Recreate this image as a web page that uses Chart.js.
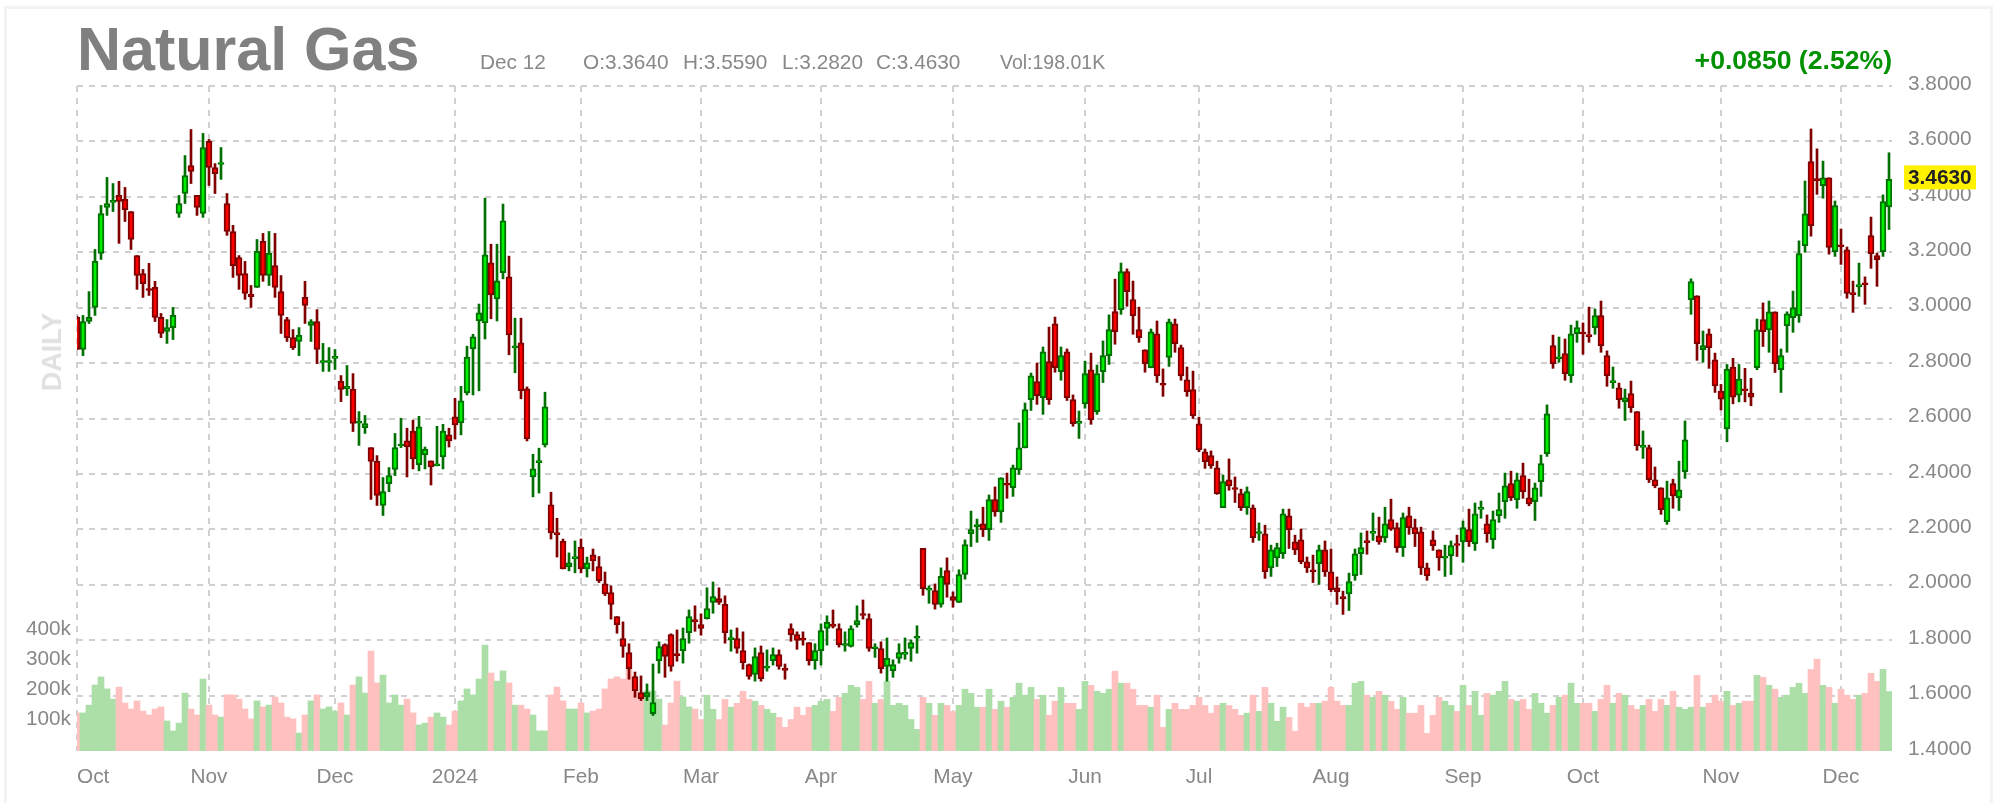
<!DOCTYPE html>
<html>
<head>
<meta charset="utf-8">
<title>Natural Gas</title>
<script src="https://cdn.jsdelivr.net/npm/chart.js@4/dist/chart.umd.min.js"></script>
<style>
    html, body { margin: 0; padding: 0; background: #fff; }
    #wrap { position: relative; width: 2008px; height: 803px; overflow: hidden; font-family: "Liberation Sans", Arial, sans-serif; }
    #frame { position: absolute; left: 4px; top: 6px; width: 1983px; height: 810px; border: 3px solid #f3f3f3; }
    canvas { position: absolute; left: 0; top: 0; }
    .txt { position: absolute; white-space: nowrap; color: #888; font-size: 20.8px; line-height: 24px; top: 50px; }
    #title { left: 77px; top: 14px; font-size: 61px; line-height: 70px; font-weight: bold; color: #808080; }
    #change { right: 116px; top: 43px; font-size: 26.6px; line-height: 34px; font-weight: bold; color: #009000; }
    #daily { left: 52px; top: 352px; font-size: 27px; line-height: 30px; font-weight: bold; color: #e0e0e0; transform: translate(-50%, -50%) rotate(-90deg); }
</style>
</head>
<body>
<div id="wrap">
    <div id="frame"></div>
    <canvas id="gas-chart" width="2008" height="803"></canvas>
    <div class="txt" id="title">Natural Gas</div>
    <div class="txt" style="left:480px">Dec 12</div>
    <div class="txt" style="left:583px">O:3.3640</div>
    <div class="txt" style="left:683px">H:3.5590</div>
    <div class="txt" style="left:782px">L:3.2820</div>
    <div class="txt" style="left:876px">C:3.4630</div>
    <div class="txt" style="left:1000px;font-size:19.5px">Vol:198.01K</div>
    <div class="txt" id="change">+0.0850 (2.52%)</div>
    <div class="txt" id="daily">DAILY</div>
</div>
<script>
// Daily prices, one entry per session slot
const opens = [
    2.965,2.849,2.950,3.001,3.196,3.362,3.380,3.405,3.391,3.347,
    3.188,3.123,3.069,3.073,2.965,2.914,2.928,3.340,3.412,3.513,
    3.405,3.340,3.600,3.506,3.517,3.376,3.275,3.181,3.123,3.048,
    3.073,3.239,3.116,3.152,3.058,2.957,2.892,2.878,3.037,2.936,
    2.950,2.802,2.802,2.817,2.734,2.708,2.705,2.583,2.567,2.495,
    2.445,2.286,2.365,2.416,2.501,2.519,2.555,2.433,2.469,2.447,
    2.429,2.461,2.541,2.606,2.584,2.692,2.851,2.952,2.945,3.162,
    3.032,3.126,3.111,2.855,2.873,2.707,2.389,2.441,2.505,2.288,
    2.188,2.158,2.064,2.094,2.136,2.057,2.108,2.066,2.003,1.972,
    1.885,1.806,1.755,1.669,1.611,1.596,1.535,1.726,1.784,1.820,
    1.752,1.762,1.827,1.874,1.856,1.878,1.936,1.950,1.929,1.802,
    1.806,1.762,1.712,1.676,1.755,1.699,1.726,1.748,1.699,1.842,
    1.820,1.807,1.791,1.726,1.762,1.842,1.858,1.842,1.781,1.777,
    1.856,1.896,1.878,1.769,1.770,1.705,1.690,1.734,1.749,1.770,
    1.807,2.131,1.980,1.979,1.929,2.051,1.957,1.936,2.037,2.184,
    2.209,2.220,2.199,2.307,2.263,2.366,2.350,2.415,2.494,2.668,
    2.733,2.675,2.805,2.942,2.769,2.841,2.668,2.582,2.653,2.776,
    2.625,2.769,2.827,2.986,2.993,3.130,3.029,2.921,2.848,2.783,
    2.906,2.727,2.820,2.942,2.856,2.740,2.704,2.581,2.480,2.466,
    2.422,2.278,2.379,2.351,2.329,2.278,2.278,2.185,2.184,2.061,
    2.097,2.112,2.249,2.155,2.162,2.083,2.054,2.076,2.126,2.047,
    1.989,1.957,1.967,2.033,2.112,2.159,2.185,2.177,2.170,2.235,
    2.206,2.134,2.249,2.206,2.191,2.061,2.162,2.126,2.096,2.105,
    2.149,2.155,2.199,2.148,2.272,2.220,2.163,2.249,2.300,2.365,
    2.307,2.394,2.314,2.300,2.372,2.473,2.863,2.816,2.834,2.755,
    2.906,2.912,2.903,2.928,2.971,2.827,2.729,2.711,2.661,2.690,
    2.625,2.496,2.495,2.379,2.350,2.228,2.365,2.314,2.408,3.029,
    3.043,2.848,2.906,2.812,2.699,2.562,2.786,2.684,2.707,2.692,
    2.783,2.957,2.920,2.985,2.776,2.935,2.964,2.971,3.224,3.527,
    3.466,3.440,3.469,3.202,3.227,3.209,3.054,3.076,3.090,3.260,
    3.188,3.202,3.364
];
const closes = [
    2.849,2.950,2.965,3.167,3.340,3.376,3.387,3.383,3.354,3.246,
    3.116,3.087,3.062,2.965,2.907,2.928,2.972,3.376,3.477,3.492,
    3.362,3.578,3.506,3.484,3.524,3.275,3.152,3.116,3.051,3.040,
    3.203,3.116,3.196,3.073,2.972,2.892,2.856,2.900,3.008,2.950,
    2.849,2.809,2.809,2.824,2.705,2.716,2.582,2.590,2.582,2.445,
    2.322,2.336,2.394,2.495,2.508,2.497,2.454,2.570,2.490,2.425,
    2.436,2.555,2.519,2.577,2.664,2.822,2.895,2.981,3.191,3.046,
    3.097,3.313,2.902,2.862,2.700,2.526,2.418,2.448,2.642,2.187,
    2.181,2.057,2.079,2.102,2.057,2.079,2.086,2.015,1.967,1.929,
    1.856,1.777,1.697,1.618,1.589,1.611,1.575,1.777,1.741,1.705,
    1.744,1.806,1.885,1.867,1.842,1.914,1.957,1.936,1.827,1.809,
    1.770,1.719,1.669,1.741,1.661,1.706,1.748,1.705,1.691,1.820,
    1.799,1.800,1.726,1.762,1.835,1.864,1.850,1.784,1.788,1.842,
    1.871,1.889,1.770,1.776,1.697,1.734,1.712,1.755,1.756,1.791,
    1.814,1.986,1.987,1.929,2.030,2.001,1.943,2.037,2.145,2.199,
    2.217,2.199,2.307,2.263,2.386,2.359,2.422,2.494,2.632,2.754,
    2.682,2.841,2.668,2.783,2.827,2.675,2.581,2.590,2.762,2.596,
    2.762,2.827,2.921,2.913,3.130,3.058,2.971,2.892,2.798,2.913,
    2.754,2.720,2.949,2.870,2.754,2.697,2.610,2.487,2.444,2.430,
    2.329,2.372,2.357,2.344,2.278,2.336,2.170,2.192,2.047,2.126,
    2.134,2.256,2.199,2.126,2.083,2.061,2.047,2.126,2.047,1.982,
    1.975,1.949,2.011,2.112,2.134,2.152,2.193,2.155,2.220,2.201,
    2.134,2.242,2.206,2.184,2.061,2.033,2.141,2.097,2.103,2.141,
    2.142,2.206,2.155,2.256,2.279,2.184,2.235,2.271,2.357,2.314,
    2.379,2.336,2.292,2.350,2.437,2.617,2.798,2.823,2.762,2.906,
    2.928,2.905,2.895,2.971,2.863,2.755,2.737,2.668,2.675,2.639,
    2.502,2.503,2.379,2.357,2.271,2.314,2.321,2.343,2.523,3.094,
    2.870,2.863,2.856,2.718,2.670,2.778,2.677,2.742,2.700,2.677,
    2.920,2.913,2.985,2.798,2.827,2.978,3.000,3.195,3.339,3.296,
    3.458,3.469,3.217,3.368,3.220,3.051,3.047,3.083,3.083,3.195,
    3.173,3.383,3.463
];
const highs = [
    2.970,2.972,3.058,3.210,3.369,3.470,3.448,3.456,3.434,3.347,
    3.188,3.138,3.160,3.095,2.979,2.957,3.001,3.405,3.549,3.643,
    3.405,3.629,3.607,3.520,3.578,3.412,3.297,3.188,3.167,3.080,
    3.246,3.268,3.275,3.268,3.116,2.965,2.921,2.928,3.095,2.957,
    2.993,2.871,2.856,2.849,2.755,2.791,2.762,2.625,2.611,2.495,
    2.466,2.387,2.423,2.546,2.601,2.565,2.594,2.608,2.497,2.447,
    2.572,2.579,2.565,2.673,2.716,2.861,2.904,3.013,3.395,3.229,
    3.229,3.374,3.186,2.962,2.962,2.714,2.471,2.493,2.695,2.334,
    2.240,2.165,2.115,2.158,2.165,2.100,2.129,2.102,2.046,1.996,
    1.885,1.866,1.787,1.685,1.671,1.642,1.714,1.794,1.787,1.823,
    1.837,1.844,1.909,1.924,1.895,1.989,2.010,1.989,1.960,1.837,
    1.844,1.830,1.714,1.772,1.779,1.765,1.772,1.765,1.714,1.859,
    1.830,1.830,1.791,1.787,1.859,1.888,1.909,1.859,1.830,1.852,
    1.924,1.945,1.895,1.787,1.794,1.808,1.729,1.787,1.808,1.801,
    1.852,2.131,1.996,2.003,2.061,2.097,1.974,2.054,2.162,2.266,
    2.237,2.280,2.324,2.353,2.386,2.403,2.432,2.584,2.656,2.764,
    2.800,2.858,2.930,2.966,2.858,2.851,2.685,2.627,2.807,2.836,
    2.793,2.880,2.974,3.103,3.161,3.140,3.096,3.002,2.848,2.923,
    2.952,2.779,2.959,2.959,2.865,2.786,2.771,2.605,2.490,2.483,
    2.446,2.396,2.454,2.389,2.345,2.353,2.288,2.223,2.215,2.143,
    2.150,2.273,2.273,2.179,2.201,2.100,2.107,2.143,2.158,2.129,
    2.028,1.977,2.042,2.129,2.187,2.194,2.259,2.244,2.280,2.309,
    2.223,2.259,2.280,2.237,2.208,2.078,2.194,2.126,2.143,2.158,
    2.179,2.230,2.273,2.295,2.302,2.252,2.266,2.331,2.403,2.410,
    2.403,2.439,2.381,2.367,2.468,2.649,2.901,2.894,2.887,2.937,
    2.952,2.945,3.002,2.995,3.024,2.844,2.786,2.728,2.706,2.735,
    2.625,2.555,2.504,2.425,2.350,2.374,2.381,2.446,2.591,3.104,
    3.043,2.916,2.923,2.836,2.723,2.795,2.817,2.795,2.781,2.745,
    2.959,3.017,3.024,2.985,2.851,2.985,3.060,3.241,3.457,3.645,
    3.573,3.529,3.469,3.385,3.284,3.219,3.096,3.161,3.111,3.327,
    3.197,3.407,3.559
];
const lows = [
    2.849,2.827,2.943,2.972,3.174,3.333,3.347,3.232,3.311,3.210,
    3.066,3.037,3.044,2.950,2.892,2.871,2.885,3.326,3.376,3.448,
    3.333,3.326,3.441,3.412,3.463,3.261,3.109,3.066,3.030,3.001,
    3.073,3.095,3.080,3.037,2.907,2.878,2.849,2.827,2.943,2.878,
    2.798,2.770,2.770,2.777,2.661,2.683,2.553,2.503,2.546,2.308,
    2.286,2.250,2.336,2.394,2.495,2.389,2.418,2.411,2.418,2.360,
    2.429,2.418,2.497,2.526,2.541,2.685,2.685,2.700,2.887,2.960,
    2.952,3.104,2.830,2.765,2.671,2.519,2.317,2.331,2.497,2.165,
    2.100,2.057,2.050,2.043,2.043,2.028,2.050,2.008,1.961,1.876,
    1.825,1.738,1.659,1.594,1.582,1.582,1.528,1.681,1.666,1.688,
    1.724,1.717,1.789,1.832,1.818,1.876,1.897,1.929,1.789,1.760,
    1.753,1.695,1.659,1.652,1.652,1.688,1.710,1.695,1.659,1.796,
    1.767,1.782,1.710,1.695,1.710,1.782,1.844,1.775,1.760,1.775,
    1.847,1.876,1.760,1.738,1.681,1.652,1.666,1.717,1.731,1.724,
    1.753,1.962,1.933,1.912,1.919,1.955,1.919,1.936,2.020,2.138,
    2.153,2.174,2.160,2.247,2.225,2.312,2.319,2.398,2.494,2.629,
    2.651,2.615,2.651,2.767,2.738,2.665,2.572,2.528,2.637,2.579,
    2.615,2.730,2.795,2.868,2.976,3.005,2.904,2.875,2.767,2.783,
    2.730,2.680,2.788,2.839,2.738,2.680,2.600,2.480,2.420,2.420,
    2.326,2.278,2.341,2.297,2.268,2.254,2.153,2.160,2.023,2.030,
    2.066,2.095,2.131,2.109,2.076,2.044,2.008,2.001,2.030,1.975,
    1.929,1.893,1.907,2.016,2.037,2.110,2.160,2.146,2.153,2.196,
    2.117,2.102,2.182,2.138,2.037,2.016,2.124,2.052,2.030,2.037,
    2.102,2.081,2.138,2.124,2.240,2.153,2.131,2.225,2.240,2.304,
    2.276,2.312,2.285,2.232,2.319,2.463,2.781,2.803,2.738,2.730,
    2.875,2.832,2.875,2.904,2.839,2.716,2.709,2.637,2.593,2.622,
    2.485,2.456,2.369,2.350,2.254,2.218,2.276,2.268,2.384,2.976,
    2.810,2.803,2.781,2.694,2.631,2.516,2.653,2.660,2.660,2.646,
    2.776,2.860,2.839,2.766,2.694,2.839,2.911,2.947,3.200,3.258,
    3.409,3.395,3.193,3.185,3.156,3.034,2.983,3.041,3.012,3.142,
    3.077,3.185,3.282
];

// Volume in thousands, and whether its bar is the green kind (1) or the red kind (0)
const volumes = [
    127,127,153,220,247,207,173,213,160,140,167,133,120,140,147,100,67,93,193,140,
    120,240,153,120,113,187,187,173,140,107,167,147,153,180,160,113,107,60,120,167,
    187,140,147,133,160,120,220,247,193,333,227,253,160,187,153,173,127,87,93,113,
    127,113,87,133,167,207,187,240,353,260,233,267,227,153,153,140,120,67,67,187,
    213,167,140,140,160,127,133,140,207,240,247,240,273,220,187,200,200,173,87,160,
    233,180,147,140,105,186,139,105,172,146,159,199,172,166,152,139,126,112,79,105,
    146,119,146,152,166,172,132,179,192,219,212,172,232,159,172,232,152,159,152,105,
    72,179,159,119,159,152,132,152,206,192,146,146,206,139,166,146,179,226,186,212,
    172,186,119,166,212,159,159,139,232,219,199,192,206,266,226,226,206,152,152,146,
    186,79,139,159,139,139,152,179,152,126,152,159,152,139,119,126,186,132,212,159,
    99,146,112,66,159,146,159,159,166,212,166,152,152,226,232,186,179,199,186,166,
    139,179,126,126,152,59,119,179,166,152,132,219,152,199,119,192,186,199,232,172,
    166,172,139,192,159,126,152,179,186,226,159,159,159,132,172,219,159,192,186,152,
    139,152,172,132,172,152,199,146,139,146,252,146,159,186,166,199,152,159,166,166,
    252,246,219,206,179,186,212,226,192,272,306,219,212,159,206,186,172,186,192,259,
    232,272,198
];
const volumeUp = [
    0,1,1,1,1,1,1,0,0,0,0,0,0,0,0,1,1,1,1,0,
    0,1,0,0,1,0,0,0,0,0,1,0,1,0,0,0,0,1,0,1,
    0,1,1,1,0,1,0,1,1,0,0,1,1,1,1,0,0,1,1,0,
    1,1,0,0,1,1,1,1,1,0,1,1,0,1,0,0,1,1,1,0,
    0,0,1,1,0,1,0,0,0,0,0,0,0,0,0,1,1,1,0,0,
    0,1,1,0,0,1,1,0,0,1,0,0,0,1,0,1,1,0,0,0,
    0,0,0,1,1,1,0,0,1,1,1,0,0,1,0,1,1,1,1,1,
    1,0,1,0,1,0,0,1,1,1,1,0,1,0,1,0,1,1,1,1,
    0,1,0,0,1,0,0,1,1,0,1,1,1,0,1,0,0,0,0,1,
    0,0,1,0,0,0,0,0,0,0,0,1,0,0,0,1,0,1,0,1,
    1,1,0,0,0,0,0,1,0,0,0,0,1,1,1,0,1,0,1,0,
    0,1,0,0,0,0,0,0,1,1,0,1,0,1,1,0,1,1,1,0,
    1,0,0,1,1,1,0,1,0,1,1,0,0,1,0,0,1,0,1,0,
    0,1,0,0,0,1,0,1,1,1,0,1,0,0,0,1,0,1,0,0,
    1,0,1,0,1,1,1,1,1,0,0,1,0,1,0,0,0,1,0,0,
    0,1,1
];

// Month ticks: session slot of each gridline and its label
const monthSlots = [0, 22, 43, 63, 84, 104, 124, 146, 168, 187, 209, 231, 251, 274, 294];
const monthLabels = ['Oct', 'Nov', 'Dec', '2024', 'Feb', 'Mar', 'Apr', 'May', 'Jun', 'Jul', 'Aug', 'Sep', 'Oct', 'Nov', 'Dec'];
const lastSlot = 302.5;
const volumeTicks = [100000, 200000, 300000, 400000];

const AXIS_GREY = '#888888';
const GRID_GREY = '#d0d0d0';
const tickFont = { family: '"Liberation Sans"', size: 20.8 };

const isUp = (i) => closes[i] >= opens[i];

// Yellow tag with the last close, sits over the price axis
const lastPriceTag = {
    id: 'lastPriceTag',
    afterDraw(chart) {
        const ctx = chart.ctx;
        const last = closes[closes.length - 1];
        const y = chart.scales.y.getPixelForValue(last) - 2;
        ctx.save();
        ctx.fillStyle = '#fff200';
        ctx.fillRect(1904, y - 12, 72, 24);
        ctx.fillStyle = '#222222';
        ctx.font = 'bold 20.8px "Liberation Sans"';
        ctx.textBaseline = 'middle';
        ctx.fillText(last.toFixed(4), 1908, y + 1);
        ctx.restore();
    }
};

new Chart(document.getElementById('gas-chart'), {
    type: 'bar',
    data: {
        datasets: [
            {
                label: 'Body',
                data: opens.map((o, i) => ({ x: i, y: [o, closes[i]] })),
                yAxisID: 'y',
                grouped: false,
                barThickness: 6,
                borderWidth: 2,
                borderSkipped: false,
                backgroundColor: opens.map((o, i) => isUp(i) ? '#00ee00' : '#ff0000'),
                borderColor: opens.map((o, i) => isUp(i) ? '#007000' : '#800000')
            },
            {
                label: 'Wick',
                data: lows.map((l, i) => ({ x: i, y: [l, highs[i]] })),
                yAxisID: 'y',
                grouped: false,
                barThickness: 2,
                borderWidth: 0,
                backgroundColor: opens.map((o, i) => isUp(i) ? '#007000' : '#800000')
            },
            {
                label: 'Volume',
                data: volumes.map((v, i) => ({ x: i, y: v * 1000 })),
                yAxisID: 'yVol',
                grouped: false,
                barThickness: 6,
                borderWidth: 0,
                backgroundColor: volumeUp.map(u => u ? '#abdfa7' : '#ffc0c0')
            }
        ]
    },
    options: {
        responsive: false,
        animation: false,
        devicePixelRatio: 1,
        layout: { padding: { top: 86 } },
        plugins: {
            legend: { display: false },
            tooltip: { enabled: false }
        },
        scales: {
            x: {
                type: 'linear',
                offset: false,
                min: 0,
                max: lastSlot,
                afterBuildTicks(scale) {
                    // the extra end tick is what keeps "inner" from shifting the last Dec
                    scale.ticks = monthSlots.concat([lastSlot]).map(value => ({ value }));
                },
                afterFit(scale) { scale.height = 52; },
                border: { display: false, dash: [6, 6] },
                grid: {
                    offset: false,
                    drawTicks: false,
                    lineWidth: 2,
                    color: (c) => c.tick && c.tick.value === lastSlot ? 'transparent' : GRID_GREY
                },
                ticks: {
                    autoSkip: false,
                    maxRotation: 0,
                    align: 'inner',
                    padding: 14,
                    color: AXIS_GREY,
                    font: tickFont,
                    callback: (value) => {
                        const k = monthSlots.indexOf(value);
                        return k >= 0 ? monthLabels[k] : '';
                    }
                }
            },
            y: {
                position: 'right',
                min: 1.4,
                max: 3.8,
                afterFit(scale) { scale.width = 116; },
                border: { display: false, dash: [6, 6] },
                grid: {
                    drawTicks: false,
                    lineWidth: 2,
                    color: (c) => c.tick && c.tick.value < 1.5 ? 'transparent' : GRID_GREY
                },
                ticks: {
                    stepSize: 0.2,
                    padding: 16,
                    labelOffset: -2,
                    color: AXIS_GREY,
                    font: tickFont,
                    callback: (value) => value.toFixed(4)
                }
            },
            yVol: {
                position: 'left',
                min: 0,
                // 30px per 100k over the 665px tall plot
                max: 2216667,
                afterBuildTicks(scale) {
                    scale.ticks = volumeTicks.map(value => ({ value }));
                },
                afterFit(scale) { scale.width = 77; },
                border: { display: false },
                grid: { display: false, drawTicks: false },
                ticks: {
                    padding: 6,
                    labelOffset: -2,
                    color: AXIS_GREY,
                    font: tickFont,
                    callback: (value) => (value / 1000) + 'k'
                }
            }
        }
    },
    plugins: [lastPriceTag]
});
</script>
</body>
</html>
